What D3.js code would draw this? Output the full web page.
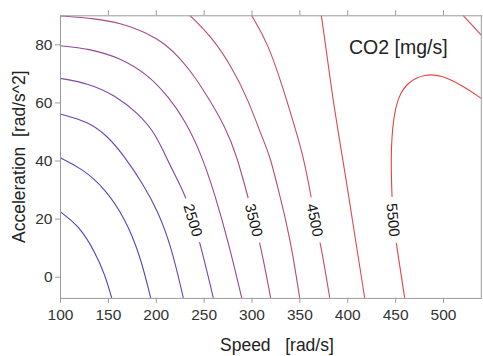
<!DOCTYPE html>
<html>
<head>
<meta charset="utf-8">
<script src="https://cdn.jsdelivr.net/npm/d3@7"></script>
<style>
  body { margin: 0; background: #fff; }
  text { font-family: "Liberation Sans", Arial, sans-serif; }
</style>
</head>
<body>
<svg id="chart" width="483" height="356"></svg>
<script>
// contour lines: [speed rad/s, acceleration rad/s^2]
const c1000 = [[100, 22.4], [119.1, 17.8], [136.6, 8.6], [147.0, 0.6], [154.0, -7.3]];
const c1500 = [[100, 41.0], [122.7, 37.3], [147.0, 30.4], [167.9, 20.1], [183.6, 7.5], [194.7, -7.3]];
const c2000 = [[100, 56.0], [129.6, 53.4], [150.4, 48.2], [166.1, 41.9], [185.3, 32.7], [202.7, 22.4], [216.7, 9.8], [228.8, -7.3]];
const c2500 = [[100, 68.3], [129.6, 66.6], [157.4, 62.5], [181.8, 56.2], [199.2, 49.4], [209.7, 41.9], [223.6, 32.7], [232.3, 27.0], [246.2, 12.0], [260.1, -7.3]];
const c3000 = [[100, 79.5], [129.6, 78.6], [164.4, 75.2], [192.2, 69.4], [213.1, 62.0], [230.5, 53.9], [248.0, 41.9], [261.9, 28.1], [275.8, 12.0], [289.8, -7.3]];
const c3500 = [[100, 89.8], [136.6, 88.9], [164.4, 87.2], [188.8, 84.3], [209.7, 80.3], [227.1, 74.6], [241.0, 68.8], [258.4, 59.7], [272.3, 51.6], [284.5, 41.9], [296.6, 27.0], [308.9, 12.0], [320.0, -7.3]];
const c4000 = [[235.5, 90], [258.4, 82.6], [279.3, 72.3], [296.7, 60.8], [310.7, 48.2], [319.0, 41.9], [327.7, 30.4], [336.3, 18.9], [343.3, 7.5], [350.3, -7.3]];
const c4500 = [[300.0, 90], [317.5, 80.3], [334.7, 63.1], [345.1, 51.6], [353.8, 41.9], [362.5, 27.5], [366.0, 19.5], [372.3, 11.5], [381.7, -7.3]];
const c5000 = [[372.9, 90], [378.1, 78.0], [385.1, 60.8], [394.5, 41.9], [400.8, 29.3], [408.4, 13.2], [418.2, -7.3]];
const c5500 = [[540, 61.4], [519.1, 66.0], [498.2, 69.4], [480.9, 69.8], [463.4, 67.1], [453.0, 62.0], [447.8, 53.9], [445.4, 41.9], [446.7, 27.5], [447.8, 19.5], [451.2, 11.5], [460.0, -7.3]];
const c5000b = [[520.9, 90], [540, 83.2]];

const levels = [1000, 1500, 2000, 2500, 3000, 3500, 4000, 4500, 5000, 5500, 5000];
const lines = [c1000, c1500, c2000, c2500, c3000, c3500, c4000, c4500, c5000, c5500, c5000b];
const lineColors = ["#4640c6", "#5a42be", "#6c43b2", "#7e46a6", "#924898", "#a64a88", "#bc4a76", "#d04a64", "#e04856", "#e8423e", "#e04856"];

const labelLevels = [2500, 3500, 4500, 5500];
const labelAccel = 19.5;

const xTicks = [100, 150, 200, 250, 300, 350, 400, 450, 500];
const yTicks = [0, 20, 40, 60, 80];

const svg = d3.select("#chart");
const mLeft = 60, mRight = 481.3, mTop = 15.3, mBottom = 297.9;

const x = d3.scaleLinear().domain([100, 540]).range([mLeft, mRight]);
const y = d3.scaleLinear().domain([-7.3, 90]).range([mBottom, mTop]);

const defs = svg.append("defs");
defs.append("clipPath").attr("id", "plot")
  .append("rect").attr("x", mLeft).attr("y", mTop)
  .attr("width", mRight - mLeft).attr("height", mBottom - mTop);
const mask = defs.append("mask").attr("id", "gaps")
  .attr("maskUnits", "userSpaceOnUse")
  .attr("x", 0).attr("y", 0).attr("width", 483).attr("height", 356);
mask.append("rect").attr("width", 483).attr("height", 356).attr("fill", "#fff");

const line = d3.line()
  .x(d => x(d[0]))
  .y(d => y(d[1]))
  .curve(d3.curveBasis);

const g = svg.append("g").attr("clip-path", "url(#plot)");
const paths = g.append("g").attr("mask", "url(#gaps)")
  .selectAll("path")
  .data(lines)
  .join("path")
  .attr("d", line)
  .attr("fill", "none")
  .attr("stroke", (d, i) => lineColors[i])
  .attr("stroke-width", 1.1);

// contour labels, placed where each line crosses labelAccel
const labelG = svg.append("g");
labelLevels.forEach(lv => {
  const node = paths.filter((d, i) => levels[i] === lv && i < 10).node();
  const len = node.getTotalLength();
  const target = y(labelAccel);
  let best = 0, bestDiff = Infinity;
  for (let s = 0; s <= len; s += 0.25) {
    const p = node.getPointAtLength(s);
    const diff = Math.abs(p.y - target);
    if (diff < bestDiff) { bestDiff = diff; best = s; }
  }
  const p = node.getPointAtLength(best);
  const a = node.getPointAtLength(Math.max(0, best - 3));
  const b = node.getPointAtLength(Math.min(len, best + 3));
  let ang = Math.atan2(b.y - a.y, b.x - a.x) * 180 / Math.PI;
  if (ang < 0) ang += 180;
  mask.append("rect")
    .attr("x", -23).attr("y", -8).attr("width", 46).attr("height", 16)
    .attr("fill", "#000")
    .attr("transform", `translate(${p.x},${p.y}) rotate(${ang})`);
  labelG.append("text")
    .attr("transform", `translate(${p.x},${p.y}) rotate(${ang})`)
    .attr("text-anchor", "middle")
    .attr("dy", "0.36em")
    .attr("font-size", 15)
    .attr("fill", "#111")
    .text(lv);
});

// axes
const axisColor = "#9a9a9a";
const style = sel => {
  sel.selectAll("path, line").attr("stroke", axisColor);
  sel.selectAll("text").attr("fill", "#333").attr("font-size", 15.5)
    .attr("font-family", '"Liberation Sans", Arial, sans-serif');
};

svg.append("g").attr("transform", `translate(0,${mBottom})`)
  .call(d3.axisBottom(x).tickValues(xTicks).tickSize(5).tickSizeOuter(0).tickPadding(6))
  .call(style);
svg.append("g").attr("transform", `translate(${mLeft},0)`)
  .call(d3.axisLeft(y).tickValues(yTicks).tickSize(5).tickSizeOuter(0).tickPadding(2.5))
  .call(style);
svg.append("g").attr("transform", `translate(0,${mTop})`)
  .call(d3.axisTop(x).tickValues(xTicks.slice(1)).tickFormat("").tickSize(5).tickSizeOuter(0))
  .call(style);
svg.append("line")
  .attr("x1", mRight).attr("x2", mRight).attr("y1", mTop).attr("y2", mBottom)
  .attr("stroke", axisColor);

// titles
svg.append("text")
  .attr("x", 220).attr("y", 350.5)
  .attr("font-size", 17.5).attr("fill", "#222")
  .attr("xml:space", "preserve").style("white-space", "pre")
  .text("Speed   [rad/s]");
svg.append("text")
  .attr("transform", "translate(25,156.7) rotate(-90)")
  .attr("text-anchor", "middle")
  .attr("font-size", 17.5).attr("fill", "#222")
  .attr("xml:space", "preserve").style("white-space", "pre")
  .text("Acceleration  [rad/s^2]");
svg.append("text")
  .attr("x", 349).attr("y", 53.5)
  .attr("font-size", 19.5).attr("fill", "#222")
  .text("CO2 [mg/s]");
</script>
</body>
</html>
